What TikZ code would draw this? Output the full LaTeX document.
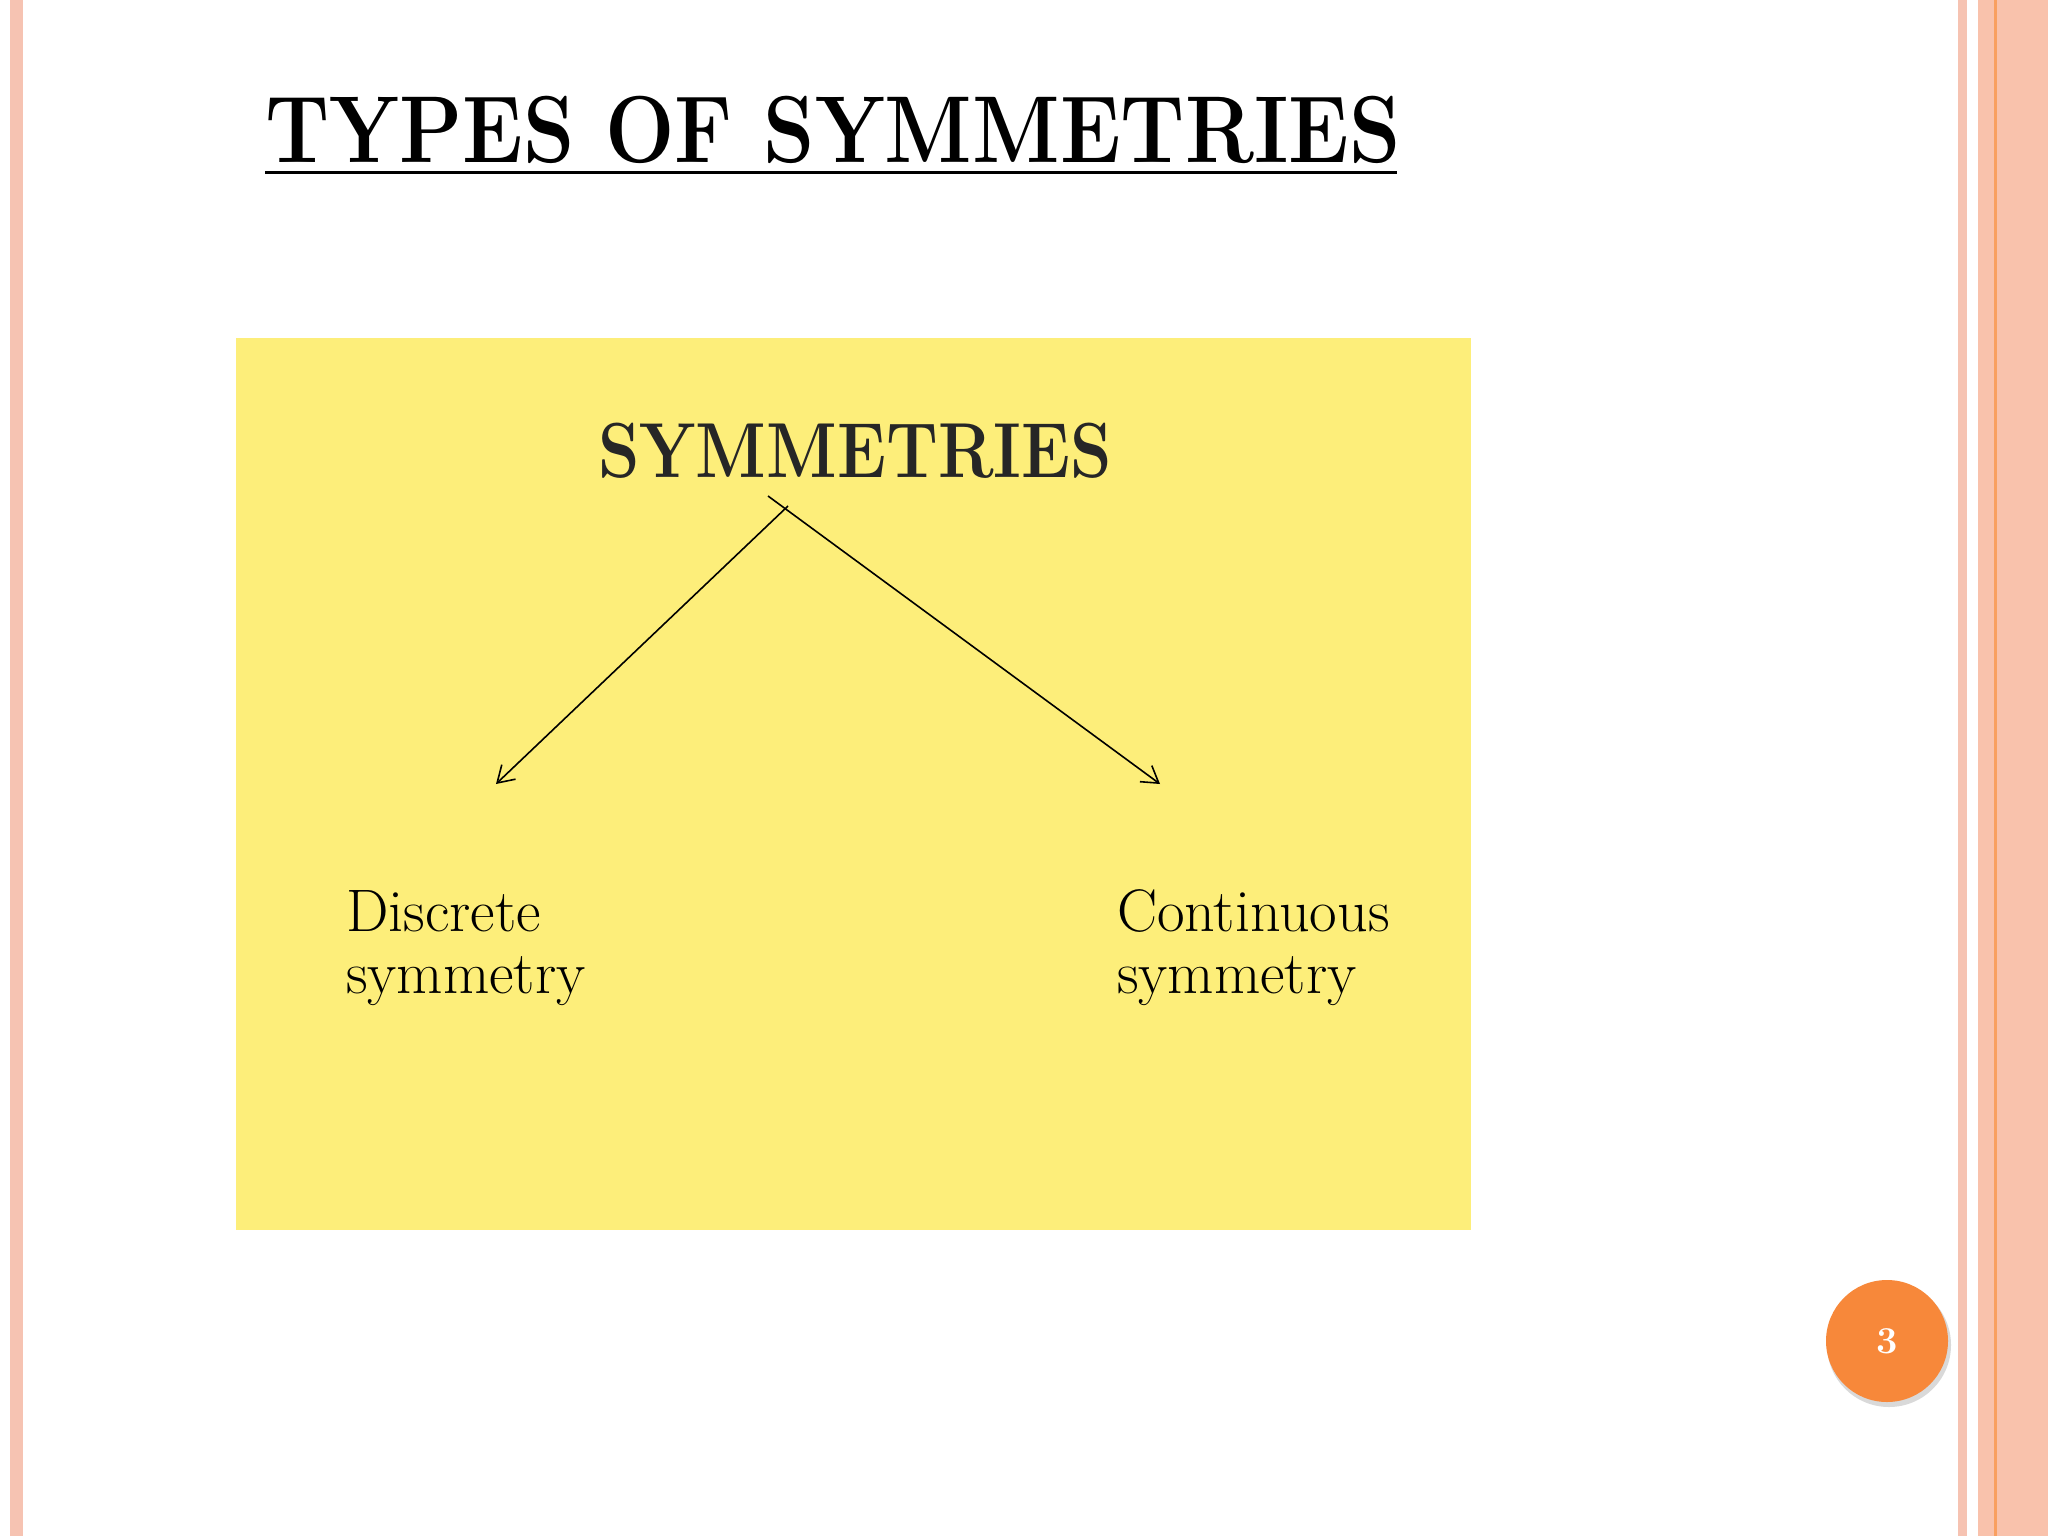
\documentclass[tikz,border=0pt]{standalone}
\usepackage{fontspec}
\usetikzlibrary{arrows.meta}
\definecolor{ylw}{HTML}{FDEE7A}
\definecolor{salm}{HTML}{F6C3B2}
\definecolor{salm2}{HTML}{F9C2AC}
\definecolor{orng}{HTML}{F7883A}
\begin{document}
\begin{tikzpicture}[x=1pt,y=-1pt,
  lbl/.style={anchor=base west,inner sep=0,font=\fontsize{60}{62}\selectfont,align=left},
  arr/.style={line width=1.6pt,-{Straight Barb[length=16pt,width=20pt,line width=1.6pt]}}]
\useasboundingbox (0,0) rectangle (2048,1536);
\fill[white] (0,0) rectangle (2048,1536);
\fill[salm] (10,0) rectangle (23,1536);
\fill[salm] (1958,0) rectangle (1967,1536);
\fill[salm2] (1978,0) rectangle (2048,1536);
\fill[orng!80] (1994,0) rectangle (1997,1536);
\node[anchor=base west,inner sep=0,font=\bfseries\fontsize{95}{95}\selectfont] (title) at (265,163) {\scalebox{0.865}[1]{TYPES OF SYMMETRIES}};
\draw[line width=3pt] (265,172) -- (1397,172);
\fill[ylw] (236,338) rectangle (1471,1230);
\node[anchor=base west,inner sep=0,font=\bfseries\fontsize{78}{78}\selectfont,text=black!85] (sym) at (598,477) {\scalebox{0.85}[1]{SYMMETRIES}};
\coordinate (d) at (496,784);
\coordinate (c) at (1160,784);
\draw[arr] (788,506) -- (d);
\draw[arr] (768,496) -- (c);
\node[lbl] (disc) at (346,993) {Discrete\\symmetry};
\node[lbl] (cont) at (1117,993) {Continuous\\symmetry};
\fill[black!15] (1889,1345) circle (62);
\node[circle,fill=orng,minimum size=122pt,inner sep=0,text=white,font=\bfseries\fontsize{38}{38}\selectfont] (pg) at (1887,1341) {3};
\end{tikzpicture}
\end{document}
